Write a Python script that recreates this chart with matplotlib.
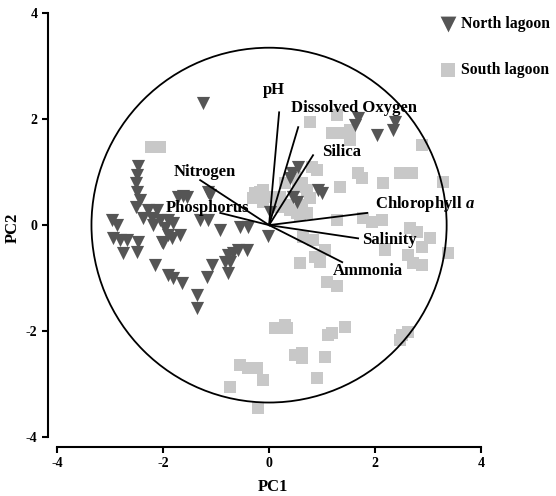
import matplotlib.pyplot as plt
from matplotlib.patches import Circle
import numpy as np

plt.rcParams['font.family'] = 'Liberation Serif'
plt.rcParams['font.weight'] = 'bold'
plt.rcParams['axes.unicode_minus'] = False
plt.rcParams['mathtext.fontset'] = 'custom'
plt.rcParams['mathtext.it'] = 'Liberation Serif:italic:bold'

# PCA scores, north lagoon (triangles)
north_pc1 = [-2.47, -2.49, -2.51, -2.49, -2.43, -2.51, -2.28, -2.11, -2.38, -2.21,
             -2.06, -1.91, -2.19, -1.96, -1.91, -1.68, -2.02, -1.83, -2.96, -2.87,
             -2.94, -2.81, -2.68, -2.47, -2.75, -2.49, -1.72, -1.55, -1.15, -1.30,
             -1.15, -0.92, -2.15, -1.91, -1.81, -1.64, -1.36, -1.36, -1.08, -1.17,
             -0.77, -0.77, -0.68, -0.58, -0.42, -0.74, -2.00, -0.55, -0.40, -0.02,
             -1.25, -1.62, -1.81, -0.83, 0.02, -1.11,
             1.68, 1.62, 2.04, 2.38, 2.34, 0.55, 0.43, 0.40, 1.00, 0.92, 0.45, 0.53]
north_pc2 = [1.11, 0.94, 0.79, 0.62, 0.47, 0.34, 0.28, 0.28, 0.13, 0.13,
             0.09, 0.09, 0.00, -0.06, -0.19, -0.19, -0.32, -0.25, 0.09, 0.00,
             -0.25, -0.28, -0.28, -0.32, -0.53, -0.51, 0.53, 0.53, 0.62, 0.09,
             0.09, -0.09, -0.75, -0.94, -1.00, -1.09, -1.32, -1.57, -0.75, -0.98,
             -0.91, -0.57, -0.53, -0.47, -0.47, -0.70, -0.34, -0.04, -0.04, -0.21,
             2.30, 0.55, 0.04, -0.70, 0.25, 0.57,
             2.02, 1.89, 1.70, 1.94, 1.79, 1.09, 0.98, 0.89, 0.60, 0.66, 0.53, 0.43]

# PCA scores, south lagoon (squares)
south_pc1 = [-2.23, -2.06, -0.26, -0.17, -0.11, -0.30, -0.11, -0.02, 0.21, 0.30,
             0.49, 0.62, 0.72, 0.77, 0.62, 0.72, 0.58, 0.36, 0.40, 0.17,
             0.91, 0.81, 0.77, 1.28, 1.19, 1.34, 1.53, 1.53, 2.89, 3.28,
             2.47, 2.70, 2.15, 1.68, 1.75, 1.34, 1.28, 1.77, 1.94, 2.13,
             2.66, 2.79, 3.04, 2.89, 2.62, 2.72, 2.89, 3.38, 2.19, 1.06,
             0.87, 0.96, 0.58, 0.64, 1.09, 1.28, 0.55, 0.53, 0.83,
             0.11, 0.30, 0.34, 1.11, 1.19, 1.43, 0.49, 0.62, 0.62, 1.06,
             -0.55, -0.40, -0.23, -0.11, -0.74, -0.21, 0.91, 2.51, 2.62, 2.47]
south_pc2 = [1.47, 1.47, 0.60, 0.62, 0.66, 0.51, 0.43, 0.53, 0.53, 0.79,
             0.91, 0.79, 0.66, 0.51, 0.38, 0.23, 0.19, 0.38, 0.28, 0.34,
             1.04, 1.09, 1.94, 2.08, 1.74, 1.74, 1.79, 1.60, 1.51, 0.81,
             0.98, 0.98, 0.79, 0.98, 0.89, 0.72, 0.09, 0.13, 0.06, 0.09,
             -0.06, -0.13, -0.25, -0.42, -0.57, -0.72, -0.75, -0.53, -0.47, -0.47,
             -0.60, -0.70, -0.72, -0.23, -1.08, -1.15, 0.72, 0.23, -0.28,
             -1.94, -1.89, -1.94, -2.08, -2.04, -1.92, -2.45, -2.42, -2.51, -2.49,
             -2.64, -2.70, -2.70, -2.92, -3.06, -3.45, -2.89, -2.08, -2.02, -2.17]

# variable loadings (scaled) and their label positions
variables = ['pH', 'Dissolved Oxygen', 'Silica', 'Chlorophyll $\\mathit{a}$',
             'Salinity', 'Ammonia', 'Nitrogen', 'Phosphorus']
load_pc1 = [0.19, 0.55, 0.83, 1.85, 1.68, 1.38, -1.30, -0.92]
load_pc2 = [2.13, 1.85, 1.32, 0.23, -0.25, -0.70, 0.85, 0.23]
label_x = [-0.11, 0.42, 1.00, 2.00, 1.75, 1.21, -1.21, -1.94]
label_y = [2.55, 2.21, 1.38, 0.40, -0.28, -0.87, 1.00, 0.32]
label_ha = ['left', 'left', 'left', 'left', 'left', 'left', 'center', 'left']

fig = plt.figure(figsize=(5.56, 4.96), dpi=100)
ax = fig.add_axes([48 / 556, 1 - 447 / 496, 449 / 556, 439 / 496])

ax.scatter(south_pc1, south_pc2, marker='s', s=72, c='#c8c8c8', linewidths=0,
           label='South lagoon', zorder=2)
ax.scatter(north_pc1, north_pc2, marker='v', s=90, c='#555555', linewidths=0,
           label='North lagoon', zorder=3)

ax.add_patch(Circle((0, 0), 3.35, fill=False, ec='black', lw=1.3, zorder=4))

for lx, ly in zip(load_pc1, load_pc2):
    ax.plot([0, lx], [0, ly], color='black', lw=1.3, zorder=5)
for name, tx, ty, ha in zip(variables, label_x, label_y, label_ha):
    ax.text(tx, ty, name, ha=ha, va='center', fontsize=12, fontweight='bold', zorder=6)

ax.set_xlim(-4.17, 4.3)
ax.set_ylim(-4.19, 4.1)
for side in ['top', 'right']:
    ax.spines[side].set_visible(False)
ax.spines['left'].set_bounds(-4, 4)
ax.spines['bottom'].set_bounds(-4, 4)
ax.spines['left'].set_linewidth(1.5)
ax.spines['bottom'].set_linewidth(1.5)
ax.set_xticks([-4, -2, 0, 2, 4])
ax.set_yticks([-4, -2, 0, 2, 4])
ax.tick_params(width=1.5, length=4, labelsize=10)
ax.set_xlabel('PC1', fontsize=12, fontweight='bold', labelpad=6)
ax.set_ylabel('PC2', fontsize=12, fontweight='bold', labelpad=4)

h, l = ax.get_legend_handles_labels()
fig.legend(h[::-1], l[::-1], loc='upper left', bbox_to_anchor=(432 / 556, 1 - 8 / 496),
           frameon=False, fontsize=11.3, labelspacing=1.95, handletextpad=0.25,
           handlelength=1.1, borderpad=0, markerscale=1.2)

fig.savefig('out.png', dpi=100)
